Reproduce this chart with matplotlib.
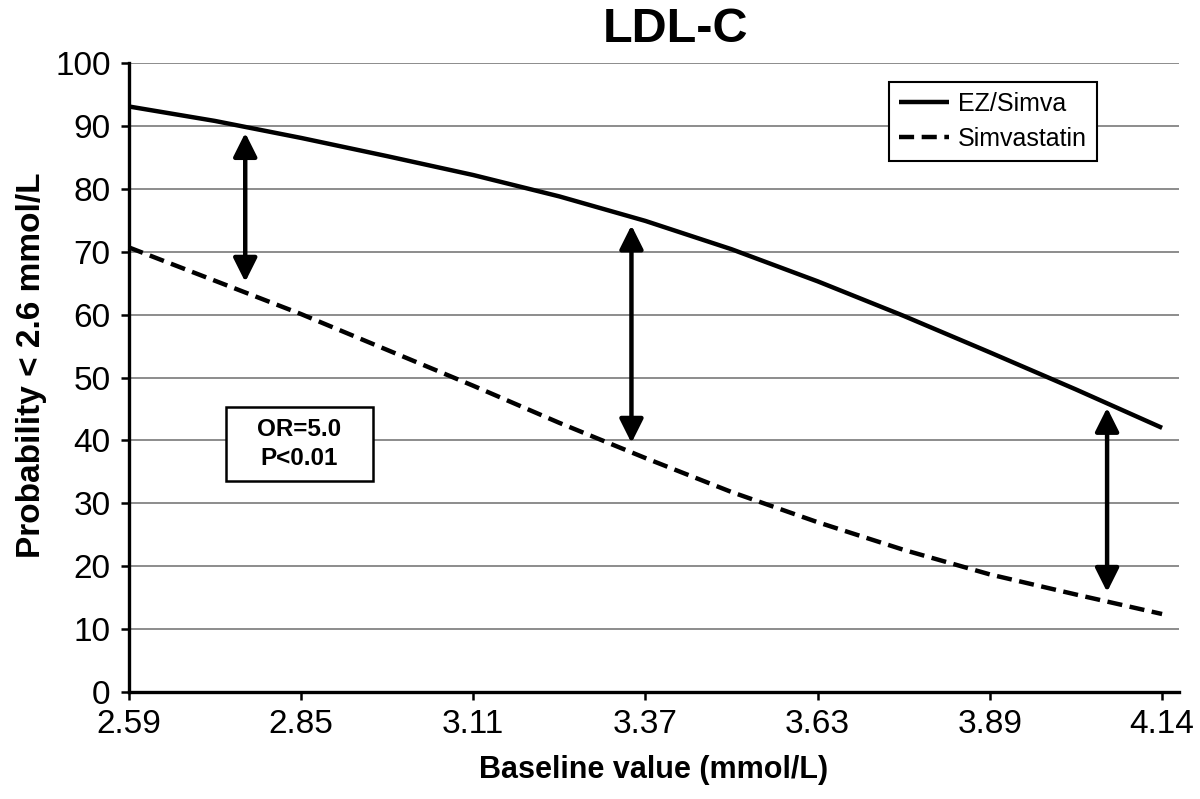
import numpy as np
import matplotlib
matplotlib.use("Agg")
import matplotlib.pyplot as plt
from matplotlib.patches import Rectangle

plt.rcParams["font.family"] = ["Liberation Sans", "DejaVu Sans"]

# values (probability in %)
baseline = [2.59, 2.72, 2.85, 2.98, 3.11, 3.24, 3.37, 3.50, 3.63, 3.76, 3.89, 4.02, 4.15]
ez_simva = [93.1, 90.8, 88.1, 85.2, 82.2, 78.8, 74.9, 70.4, 65.3, 59.8, 54.0, 48.1, 42.0]
simva = [70.7, 65.4, 60.1, 54.4, 48.7, 42.8, 37.2, 31.8, 27.0, 22.6, 18.7, 15.5, 12.4]

tick_pos = [2.59, 2.85, 3.11, 3.37, 3.63, 3.89, 4.15]
tick_labels = ["2.59", "2.85", "3.11", "3.37", "3.63", "3.89", "4.14"]

# double arrows showing the gap between treatments
arrow_x = [2.766, 3.349, 4.067]
arrow_top = [88.9, 74.2, 45.2]
arrow_bottom = [65.2, 39.6, 15.9]

fig = plt.figure(figsize=(12, 7.99), dpi=100)
ax = fig.add_axes([0.1072, 0.1339, 0.875, 0.7872])

ax.set_xlim(2.59, 4.175)
ax.set_ylim(0, 100)
ax.set_yticks(np.arange(0, 101, 10))
ax.set_xticks(tick_pos)
ax.set_xticklabels(tick_labels)

ax.yaxis.grid(True, color="#6e6e6e", lw=1.1)
ax.set_axisbelow(True)
for s in ["top", "right"]:
    ax.spines[s].set_visible(False)
for s in ["left", "bottom"]:
    ax.spines[s].set_linewidth(2.4)
    ax.spines[s].set_color("black")
ax.tick_params(axis="both", labelsize=24, width=1.8, length=6, direction="out")
ax.tick_params(axis="y", pad=7)
ax.tick_params(axis="x", pad=6)

ax.plot(baseline, ez_simva, color="black", lw=3.2, solid_capstyle="butt", label="EZ/Simva", clip_on=False)
ax.plot(baseline, simva, color="black", lw=3.2, dashes=(3.4, 1.7), label="Simvastatin", clip_on=False)

for x, top, bot in zip(arrow_x, arrow_top, arrow_bottom):
    ax.annotate("", xy=(x, top), xytext=(x, bot),
                arrowprops=dict(arrowstyle="<|-|>,head_length=0.72,head_width=0.36",
                                mutation_scale=20, lw=3.2, color="black",
                                shrinkA=0, shrinkB=0))

leg = ax.legend(loc="upper right", bbox_to_anchor=(0.922, 0.970), borderaxespad=0,
                fontsize=18, handlelength=2.0, handletextpad=0.35, labelspacing=0.45,
                borderpad=0.4, fancybox=False, framealpha=1, edgecolor="black")
leg.get_frame().set_linewidth(1.5)

# OR / P-value box
ax.add_patch(Rectangle((2.737, 33.5), 0.222, 11.8, facecolor="white",
                       edgecolor="black", lw=1.8, zorder=3))
ax.text(2.848, 39.4, "OR=5.0\nP<0.01", ha="center", va="center", fontsize=17.5,
        fontweight="bold", linespacing=1.35, zorder=4)

ax.set_xlabel("Baseline value (mmol/L)", fontsize=22, fontweight="bold", labelpad=11)
ax.set_ylabel("Probability < 2.6 mmol/L", fontsize=24, fontweight="bold", labelpad=6)
ax.yaxis.label.set_y(0.52)
fig.text(0.5625, 0.947, "LDL-C", ha="center", va="baseline", fontsize=35, fontweight="bold")

fig.savefig("out.png", dpi=100)
